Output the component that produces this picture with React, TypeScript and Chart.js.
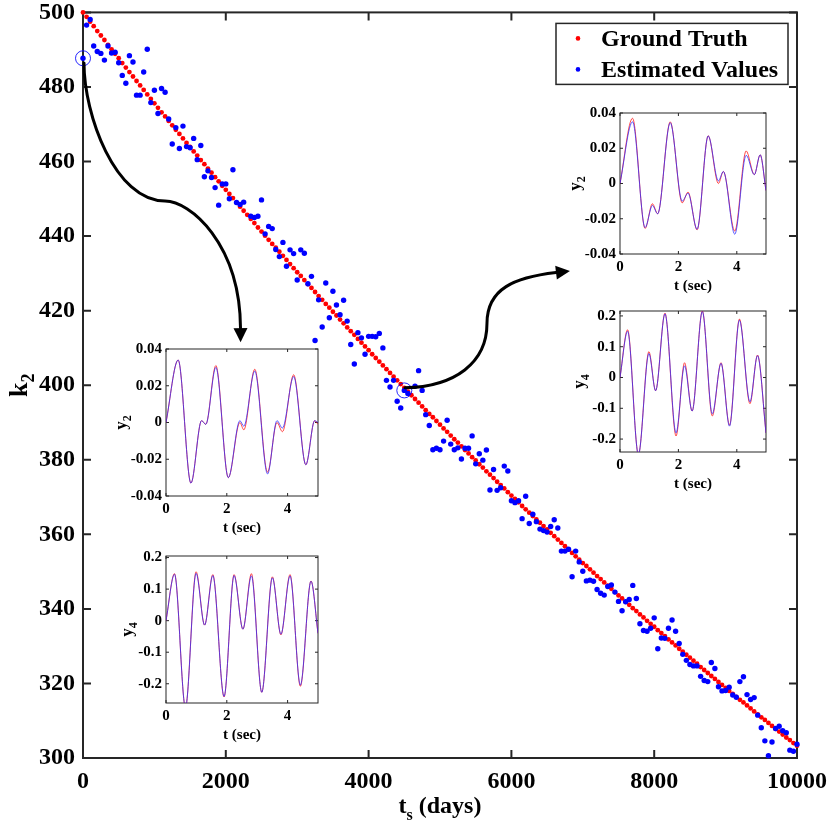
import { useEffect, useRef } from 'react'
import { Chart, registerables } from 'chart.js'

Chart.register(...registerables)

const FONT = '"Liberation Serif", "Times New Roman", serif'
const AXIS_COLOR = '#262626'

// ground truth k2 vs t_s (days)
const GT_T = [
  0, 50, 100, 150, 200, 250, 300, 350, 400, 450, 500, 550, 600, 650, 700, 750, 800, 850, 900, 950,
  1000, 1050, 1100, 1150, 1200, 1250, 1300, 1350, 1400, 1450, 1500, 1550, 1600, 1650, 1700, 1750, 1800, 1850, 1900, 1950,
  2000, 2050, 2100, 2150, 2200, 2250, 2300, 2350, 2400, 2450, 2500, 2550, 2600, 2650, 2700, 2750, 2800, 2850, 2900, 2950,
  3000, 3050, 3100, 3150, 3200, 3250, 3300, 3350, 3400, 3450, 3500, 3550, 3600, 3650, 3700, 3750, 3800, 3850, 3900, 3950,
  4000, 4050, 4100, 4150, 4200, 4250, 4300, 4350, 4400, 4450, 4500, 4550, 4600, 4650, 4700, 4750, 4800, 4850, 4900, 4950,
  5000, 5050, 5100, 5150, 5200, 5250, 5300, 5350, 5400, 5450, 5500, 5550, 5600, 5650, 5700, 5750, 5800, 5850, 5900, 5950,
  6000, 6050, 6100, 6150, 6200, 6250, 6300, 6350, 6400, 6450, 6500, 6550, 6600, 6650, 6700, 6750, 6800, 6850, 6900, 6950,
  7000, 7050, 7100, 7150, 7200, 7250, 7300, 7350, 7400, 7450, 7500, 7550, 7600, 7650, 7700, 7750, 7800, 7850, 7900, 7950,
  8000, 8050, 8100, 8150, 8200, 8250, 8300, 8350, 8400, 8450, 8500, 8550, 8600, 8650, 8700, 8750, 8800, 8850, 8900, 8950,
  9000, 9050, 9100, 9150, 9200, 9250, 9300, 9350, 9400, 9450, 9500, 9550, 9600, 9650, 9700, 9750, 9800, 9850, 9900, 9950,
  10000,
]
const GT_K = [
  500, 498.8, 497.5, 496.3, 495.0, 493.8, 492.6, 491.3, 490.1, 488.9, 487.7, 486.4, 485.2, 484.0, 482.8, 481.6, 480.4, 479.2, 478.0, 476.8,
  475.6, 474.4, 473.2, 472.1, 470.9, 469.7, 468.5, 467.4, 466.2, 465.0, 463.9, 462.7, 461.6, 460.4, 459.3, 458.1, 457.0, 455.8, 454.7, 453.5,
  452.4, 451.3, 450.2, 449.0, 447.9, 446.8, 445.7, 444.6, 443.5, 442.3, 441.2, 440.1, 439.0, 437.9, 436.9, 435.8, 434.7, 433.6, 432.5, 431.4,
  430.3, 429.3, 428.2, 427.1, 426.1, 425.0, 423.9, 422.9, 421.8, 420.8, 419.7, 418.7, 417.6, 416.6, 415.5, 414.5, 413.5, 412.4, 411.4, 410.4,
  409.4, 408.3, 407.3, 406.3, 405.3, 404.3, 403.3, 402.3, 401.3, 400.3, 399.3, 398.3, 397.3, 396.3, 395.3, 394.3, 393.3, 392.3, 391.4, 390.4,
  389.4, 388.4, 387.5, 386.5, 385.5, 384.6, 383.6, 382.6, 381.7, 380.7, 379.8, 378.8, 377.9, 376.9, 376.0, 375.1, 374.1, 373.2, 372.3, 371.3,
  370.4, 369.5, 368.6, 367.6, 366.7, 365.8, 364.9, 364.0, 363.1, 362.2, 361.3, 360.4, 359.5, 358.6, 357.7, 356.8, 355.9, 355.0, 354.1, 353.2,
  352.3, 351.5, 350.6, 349.7, 348.8, 348.0, 347.1, 346.2, 345.4, 344.5, 343.6, 342.8, 341.9, 341.1, 340.2, 339.4, 338.5, 337.7, 336.8, 336.0,
  335.2, 334.3, 333.5, 332.7, 331.8, 331.0, 330.2, 329.3, 328.5, 327.7, 326.9, 326.1, 325.3, 324.4, 323.6, 322.8, 322.0, 321.2, 320.4, 319.6,
  318.8, 318.0, 317.2, 316.4, 315.6, 314.9, 314.1, 313.3, 312.5, 311.7, 310.9, 310.2, 309.4, 308.6, 307.8, 307.1, 306.3, 305.5, 304.8, 304.0,
  303.3,
]

// estimated k2
const EST_T = [
  0, 50, 100, 150, 200, 250, 300, 350, 400, 450,
  500, 550, 600, 650, 700, 750, 800, 850, 900, 950,
  1000, 1050, 1100, 1150, 1200, 1250, 1300, 1350, 1400, 1450,
  1500, 1550, 1600, 1650, 1700, 1750, 1800, 1850, 1900, 1950,
  2000, 2050, 2100, 2150, 2200, 2250, 2350, 2400, 2450, 2500,
  2550, 2600, 2650, 2700, 2750, 2800, 2850, 2900, 2950, 3000,
  3050, 3100, 3150, 3200, 3250, 3300, 3350, 3400, 3450, 3500,
  3550, 3600, 3650, 3700, 3750, 3800, 3850, 3900, 3950, 4000,
  4050, 4100, 4150, 4200, 4250, 4300, 4350, 4400, 4450, 4500,
  4550, 4650, 4700, 4750, 4800, 4850, 4900, 4950, 5000, 5050,
  5100, 5150, 5200, 5250, 5300, 5350, 5400, 5450, 5500, 5550,
  5600, 5650, 5700, 5750, 5800, 5850, 5900, 5950, 6000, 6050,
  6100, 6150, 6200, 6250, 6300, 6350, 6400, 6450, 6500, 6550,
  6600, 6650, 6700, 6750, 6800, 6850, 6900, 6950, 7000, 7050,
  7100, 7150, 7200, 7250, 7300, 7350, 7400, 7450, 7500, 7550,
  7600, 7650, 7700, 7750, 7800, 7850, 7900, 7950, 8000, 8050,
  8100, 8150, 8200, 8250, 8300, 8350, 8400, 8450, 8500, 8550,
  8600, 8650, 8700, 8750, 8800, 8850, 8900, 8950, 9000, 9050,
  9100, 9150, 9200, 9250, 9300, 9350, 9400, 9450, 9500, 9550,
  9600, 9650, 9700, 9750, 9800, 9850, 9900, 9950, 10000,
]
const EST_K = [
  487.7, 496.6, 498.1, 491, 489.5, 489, 487.2, 491, 489.1, 489.3,
  486.5, 483.1, 481, 488.4, 486.7, 477.8, 477.8, 484, 490.1, 475.8,
  479.1, 472.9, 479.6, 478.6, 471.4, 464.7, 469.1, 463.5, 469.5, 464,
  463.7, 466.2, 460.5, 464.3, 455.9, 457.5, 455.7, 453, 448.3, 454,
  454, 450, 457.8, 449, 448.5, 449.1, 445.3, 445, 445.3, 449.7,
  440.6, 442.6, 442, 436.4, 434.5, 438.3, 431.9, 436.3, 435.3, 428.2,
  436.3, 435.4, 427.2, 429.2, 412, 422.9, 415.6, 427.4, 418.1, 425.2,
  421.5, 418.9, 422.8, 417.2, 410.9, 405.7, 414.1, 412.7, 408.3, 413.1,
  413.1, 413, 413.9, 410, 401.3, 399.5, 401.3, 395.7, 393.9, 398.6,
  397.8, 399.7, 403.9, 398.6, 392.1, 389.2, 382.7, 383.1, 382.7, 385,
  390.6, 384.2, 382.7, 383.2, 380.2, 383.1, 383.1, 386.4, 378.9, 381.6,
  379.9, 382.6, 371.9, 377.4, 371.8, 372.5, 378.3, 377, 369, 368.5,
  369, 364.2, 370.2, 362.9, 365.4, 363.4, 361.4, 361, 360.6, 362.1,
  363.9, 361.7, 355.5, 355.5, 356, 348.6, 355.5, 352.6, 350.1, 347.5,
  347.7, 347.4, 345.2, 344.2, 343.7, 346, 346.4, 344.5, 342, 339.5,
  341.9, 342.5, 346.3, 342.8, 336, 334.2, 334, 334.8, 337.6, 329.3,
  332.2, 332.1, 334.8, 337, 334, 330.7, 327.8, 326.2, 325.1, 324.7,
  324.7, 321.9, 320.8, 320.5, 325.6, 324, 319.1, 318, 318.1, 319,
  316.9, 316.3, 320.5, 321.8, 317, 315.7, 316.2, 311.5, 308.1, 304.6,
  300.6, 304.3, 307.9, 308.5, 307.3, 306.8, 302.1, 301.8, 303.7,
]

// the two circled estimates that the insets zoom into
const HIGHLIGHT_T = [0, 4500]
const HIGHLIGHT_K = [487.7, 398.6]

const X_TICK_STEP = 2000
const Y_TICK_STEP = 20

// curved arrows, given as cubic bezier chains in (t_s, k2) units
const ARROW_1 = [
  [14, 486.4], [14, 472.6], [448, 449.4], [1148, 449.4],
  [1499, 449.4], [2199, 438.0], [2206, 415.3],
]
const ARROW_2 = [
  [4510, 399.3], [5210, 399.6], [5658, 406.0], [5658, 416.6],
  [5658, 426.0], [6050, 428.9], [6625, 430.2],
]

// inset time series, t in sec
const A_T = [0, 0.4, 0.82, 1.17, 1.31, 1.64, 2.05, 2.43, 2.56, 2.92, 3.34, 3.65, 3.83, 4.2, 4.6, 4.89, 5.0]
const A_RED = [0, 0.034, -0.033, 0.001, -0.001, 0.031, -0.030, 0.0, -0.004, 0.029, -0.027, 0.0, -0.005, 0.026, -0.023, 0.001, -0.001]
const A_BLUE = [0, 0.034, -0.033, 0.001, -0.001, 0.030, -0.030, 0.001, -0.002, 0.028, -0.028, 0.001, -0.003, 0.025, -0.023, 0.001, 0]

const B_T = [0, 0.28, 0.64, 0.99, 1.27, 1.54, 1.91, 2.24, 2.53, 2.81, 3.15, 3.5, 3.78, 4.08, 4.42, 4.77, 5.0]
const B_RED = [0, 0.149, -0.275, 0.155, -0.014, 0.146, -0.242, 0.146, -0.027, 0.149, -0.227, 0.139, -0.045, 0.146, -0.208, 0.126, -0.04]
const B_BLUE = [0, 0.147, -0.275, 0.15, -0.014, 0.143, -0.24, 0.143, -0.027, 0.142, -0.227, 0.136, -0.043, 0.142, -0.204, 0.125, -0.04]

const C_T = [0, 0.43, 0.86, 1.11, 1.29, 1.72, 2.13, 2.33, 2.64, 3.02, 3.37, 3.54, 3.93, 4.32, 4.6, 4.8, 5.0]
const C_RED = [0, 0.037, -0.0255, -0.0115, -0.0172, 0.035, -0.011, -0.0049, -0.0263, 0.0271, 0.0, 0.0068, -0.027, 0.0185, 0.005, 0.0163, -0.004]
const C_BLUE = [0, 0.035, -0.025, -0.0125, -0.0172, 0.0345, -0.01, -0.0055, -0.026, 0.027, 0.0015, 0.0068, -0.0288, 0.016, 0.005, 0.0163, -0.004]

const D_T = [0, 0.26, 0.63, 0.99, 1.22, 1.54, 1.92, 2.21, 2.47, 2.82, 3.16, 3.46, 3.75, 4.09, 4.45, 4.71, 5.0]
const D_RED = [0, 0.155, -0.25, 0.084, -0.043, 0.209, -0.19, 0.048, -0.109, 0.216, -0.125, 0.048, -0.155, 0.19, -0.085, 0.073, -0.18]
const D_BLUE = [0, 0.15, -0.25, 0.078, -0.043, 0.207, -0.18, 0.038, -0.109, 0.214, -0.118, 0.046, -0.158, 0.186, -0.079, 0.071, -0.18]

function drawRich(ctx: CanvasRenderingContext2D, x: number, y: number, parts: [string, boolean][], size: number, rotate = false) {
  ctx.save()
  ctx.translate(x, y)
  if (rotate) ctx.rotate(-Math.PI / 2)
  const fontOf = (sub: boolean) => `bold ${sub ? Math.round(size * 0.68) : size}px ${FONT}`
  let total = 0
  for (const [txt, sub] of parts) {
    ctx.font = fontOf(sub)
    total += ctx.measureText(txt).width
  }
  let cx = -total / 2
  ctx.textAlign = 'left'
  ctx.textBaseline = 'alphabetic'
  ctx.fillStyle = '#000'
  for (const [txt, sub] of parts) {
    ctx.font = fontOf(sub)
    ctx.fillText(txt, cx, size * 0.33 + (sub ? size * 0.3 : 0))
    cx += ctx.measureText(txt).width
  }
  ctx.restore()
}

// MATLAB-like box with inward ticks on all four sides
const boxAxes = {
  id: 'boxAxes',
  beforeDatasetsDraw(chart: any, _args: any, opts: any) {
    const { ctx, chartArea: a, scales } = chart
    ctx.save()
    if (opts.fill) {
      ctx.fillStyle = opts.fill
      ctx.fillRect(a.left, a.top, a.width, a.height)
    }
    ctx.strokeStyle = AXIS_COLOR
    ctx.lineWidth = opts.lineWidth
    ctx.beginPath()
    for (const t of scales.x.ticks) {
      const px = scales.x.getPixelForValue(t.value)
      ctx.moveTo(px, a.bottom)
      ctx.lineTo(px, a.bottom - opts.tickLen)
      ctx.moveTo(px, a.top)
      ctx.lineTo(px, a.top + opts.tickLen)
    }
    for (const t of scales.y.ticks) {
      const py = scales.y.getPixelForValue(t.value)
      ctx.moveTo(a.left, py)
      ctx.lineTo(a.left + opts.tickLen, py)
      ctx.moveTo(a.right, py)
      ctx.lineTo(a.right - opts.tickLen, py)
    }
    ctx.stroke()
    ctx.strokeRect(a.left, a.top, a.width, a.height)
    ctx.restore()
  },
}

const mainDecor = {
  id: 'mainDecor',
  afterDatasetsDraw(chart: any) {
    const { ctx, chartArea: a, scales } = chart
    const px = (p: number[]) => [scales.x.getPixelForValue(p[0]), scales.y.getPixelForValue(p[1])]

    const drawArrow = (pts: number[][]) => {
      const p = pts.map(px)
      const end = p[p.length - 1]
      const prev = p[p.length - 2]
      const dx = end[0] - prev[0]
      const dy = end[1] - prev[1]
      const len = Math.hypot(dx, dy)
      const ux = dx / len
      const uy = dy / len
      ctx.save()
      ctx.strokeStyle = '#000'
      ctx.lineWidth = 3
      ctx.lineCap = 'round'
      ctx.beginPath()
      ctx.moveTo(p[0][0], p[0][1])
      for (let i = 1; i + 2 < p.length; i += 3) {
        ctx.bezierCurveTo(p[i][0], p[i][1], p[i + 1][0], p[i + 1][1], p[i + 2][0], p[i + 2][1])
      }
      ctx.stroke()
      const hl = 14
      const hw = 7
      ctx.fillStyle = '#000'
      ctx.beginPath()
      ctx.moveTo(end[0] + ux * hl, end[1] + uy * hl)
      ctx.lineTo(end[0] - uy * hw, end[1] + ux * hw)
      ctx.lineTo(end[0] + uy * hw, end[1] - ux * hw)
      ctx.closePath()
      ctx.fill()
      ctx.restore()
    }
    drawArrow(ARROW_1)
    drawArrow(ARROW_2)

    // legend
    const w = 232
    const h = 61
    const x0 = a.right - 9 - w
    const y0 = a.top + 11
    ctx.save()
    ctx.fillStyle = '#fff'
    ctx.fillRect(x0, y0, w, h)
    ctx.strokeStyle = AXIS_COLOR
    ctx.lineWidth = 1.5
    ctx.strokeRect(x0, y0, w, h)
    const entries = chart.data.datasets.slice(0, 2)
    entries.forEach((ds: any, i: number) => {
      const cy = y0 + 15 + i * 31
      ctx.fillStyle = ds.backgroundColor
      ctx.beginPath()
      ctx.arc(x0 + 22, cy, 2.3, 0, Math.PI * 2)
      ctx.fill()
      ctx.fillStyle = '#000'
      ctx.font = `bold 24px ${FONT}`
      ctx.textAlign = 'left'
      ctx.textBaseline = 'middle'
      ctx.fillText(ds.label, x0 + 45, cy + 1)
    })
    ctx.restore()

    // axis titles
    drawRich(ctx, 18, (a.top + a.bottom) / 2, [['k', false], ['2', true]], 26, true)
    drawRich(ctx, (a.left + a.right) / 2, a.bottom + 47, [['t', false], ['s', true], [' (days)', false]], 24)
  },
}

const MAIN_W = 860
const MAIN_H = 840

function MainChart() {
  const canvasRef = useRef<HTMLCanvasElement>(null)

  useEffect(() => {
    if (!canvasRef.current) return
    const tickFont = { family: FONT, size: 24, weight: 'bold' as const }
    const chart = new Chart(canvasRef.current, {
      type: 'scatter',
      data: {
        datasets: [
          {
            label: 'Ground Truth',
            data: GT_T.map((t, i) => ({ x: t, y: GT_K[i] })),
            backgroundColor: '#ff0000',
            borderWidth: 0,
            pointRadius: 2.4,
            order: 3,
            clip: false,
          },
          {
            label: 'Estimated Values',
            data: EST_T.map((t, i) => ({ x: t, y: EST_K[i] })),
            backgroundColor: '#0000ff',
            borderWidth: 0,
            pointRadius: 2.7,
            order: 2,
            clip: false,
          },
          {
            label: '',
            data: HIGHLIGHT_T.map((t, i) => ({ x: t, y: HIGHLIGHT_K[i] })),
            backgroundColor: 'rgba(0,0,0,0)',
            borderColor: 'rgba(0,0,255,0.85)',
            borderWidth: 1,
            pointRadius: 7.5,
            order: 1,
            clip: false,
          },
        ],
      },
      options: {
        responsive: false,
        animation: false,
        events: [],
        layout: { padding: { top: 17, right: MAIN_W - 797, left: 0, bottom: 0 } },
        plugins: {
          legend: { display: false },
          tooltip: { enabled: false },
          boxAxes: { tickLen: 8, lineWidth: 2 },
        } as any,
        scales: {
          x: {
            type: 'linear',
            min: 0,
            max: 10000,
            grid: { display: false, drawTicks: false },
            border: { display: false },
            ticks: {
              stepSize: X_TICK_STEP,
              font: tickFont,
              color: '#000',
              padding: 9,
              maxRotation: 0,
              callback: (v: any) => String(v),
            },
            afterFit: (s: any) => {
              s.height = 72
            },
          },
          y: {
            min: 300,
            max: 500,
            grid: { display: false, drawTicks: false },
            border: { display: false },
            ticks: { stepSize: Y_TICK_STEP, font: tickFont, color: '#000', padding: 8, callback: (v: any) => String(v) },
            afterFit: (s: any) => {
              s.width = 83
            },
          },
        },
      },
      plugins: [boxAxes, mainDecor],
    })
    return () => chart.destroy()
  }, [])

  return (
    <canvas
      ref={canvasRef}
      width={MAIN_W}
      height={MAIN_H}
      style={{ position: 'absolute', left: 0, top: -10, width: MAIN_W, height: MAIN_H }}
    />
  )
}

type InsetProps = {
  area: [number, number, number, number]
  t: number[]
  red: number[]
  blue: number[]
  yMin: number
  yMax: number
  yStep: number
  sub: string
  titleGap: number
}

const ML = 66
const MT = 14
const MR = 12
const MB = 50

function InsetChart({ area, t, red, blue, yMin, yMax, yStep, sub, titleGap }: InsetProps) {
  const canvasRef = useRef<HTMLCanvasElement>(null)
  const [L, T, R, B] = area
  const w = R - L + ML + MR
  const h = B - T + MT + MB

  useEffect(() => {
    if (!canvasRef.current) return
    const tickFont = { family: FONT, size: 15, weight: 'bold' as const }
    const titles = {
      id: 'insetTitles',
      afterDraw(chart: any) {
        const { ctx, chartArea: a } = chart
        drawRich(ctx, a.left - titleGap, (a.top + a.bottom) / 2, [['y', false], [sub, true]], 17, true)
        drawRich(ctx, (a.left + a.right) / 2, a.bottom + 31, [['t (sec)', false]], 15)
      },
    }
    const chart = new Chart(canvasRef.current, {
      type: 'line',
      data: {
        datasets: [
          {
            data: t.map((v, i) => ({ x: v, y: blue[i] })),
            borderColor: 'rgba(40,40,255,0.75)',
            borderWidth: 1,
            pointRadius: 0,
            cubicInterpolationMode: 'monotone',
          },
          {
            data: t.map((v, i) => ({ x: v, y: red[i] })),
            borderColor: 'rgba(255,0,0,0.7)',
            borderWidth: 1,
            pointRadius: 0,
            cubicInterpolationMode: 'monotone',
          },
        ],
      },
      options: {
        responsive: false,
        animation: false,
        events: [],
        layout: { padding: { top: MT, right: MR, left: 0, bottom: 0 } },
        plugins: {
          legend: { display: false },
          tooltip: { enabled: false },
          boxAxes: { tickLen: 3, lineWidth: 1, fill: '#fff' },
        } as any,
        scales: {
          x: {
            type: 'linear',
            min: 0,
            max: 5,
            grid: { display: false, drawTicks: false },
            border: { display: false },
            ticks: { stepSize: 2, includeBounds: false, font: tickFont, color: '#000', padding: 4, maxRotation: 0 },
            afterFit: (s: any) => {
              s.height = MB
            },
          },
          y: {
            type: 'linear',
            min: yMin,
            max: yMax,
            grid: { display: false, drawTicks: false },
            border: { display: false },
            ticks: {
              stepSize: yStep,
              includeBounds: false,
              font: tickFont,
              color: '#000',
              padding: 4,
              callback: (v: any) => {
                const n = Math.round(Number(v) * 1000) / 1000
                return n === 0 ? '0' : String(n)
              },
            },
            afterFit: (s: any) => {
              s.width = ML
            },
          },
        },
      },
      plugins: [boxAxes, titles],
    })
    return () => chart.destroy()
  }, [t, red, blue, yMin, yMax, yStep, sub, titleGap])

  return (
    <canvas
      ref={canvasRef}
      width={w}
      height={h}
      style={{ position: 'absolute', left: L - ML, top: T - MT, width: w, height: h }}
    />
  )
}

export default function App() {
  return (
    <div
      style={{
        position: 'fixed',
        left: 0,
        top: 0,
        width: 830,
        height: 830,
        background: '#fff',
        overflow: 'hidden',
      }}
    >
      <MainChart />
      <InsetChart area={[166, 349, 318, 496]} t={A_T} red={A_RED} blue={A_BLUE} yMin={-0.04} yMax={0.04} yStep={0.02} sub="2" titleGap={46} />
      <InsetChart area={[166, 556, 318, 703]} t={B_T} red={B_RED} blue={B_BLUE} yMin={-0.261} yMax={0.205} yStep={0.1} sub="4" titleGap={40} />
      <InsetChart area={[620, 113, 766, 254]} t={C_T} red={C_RED} blue={C_BLUE} yMin={-0.04} yMax={0.04} yStep={0.02} sub="2" titleGap={46} />
      <InsetChart area={[620, 311, 766, 452]} t={D_T} red={D_RED} blue={D_BLUE} yMin={-0.242} yMax={0.216} yStep={0.1} sub="4" titleGap={42} />
    </div>
  )
}
